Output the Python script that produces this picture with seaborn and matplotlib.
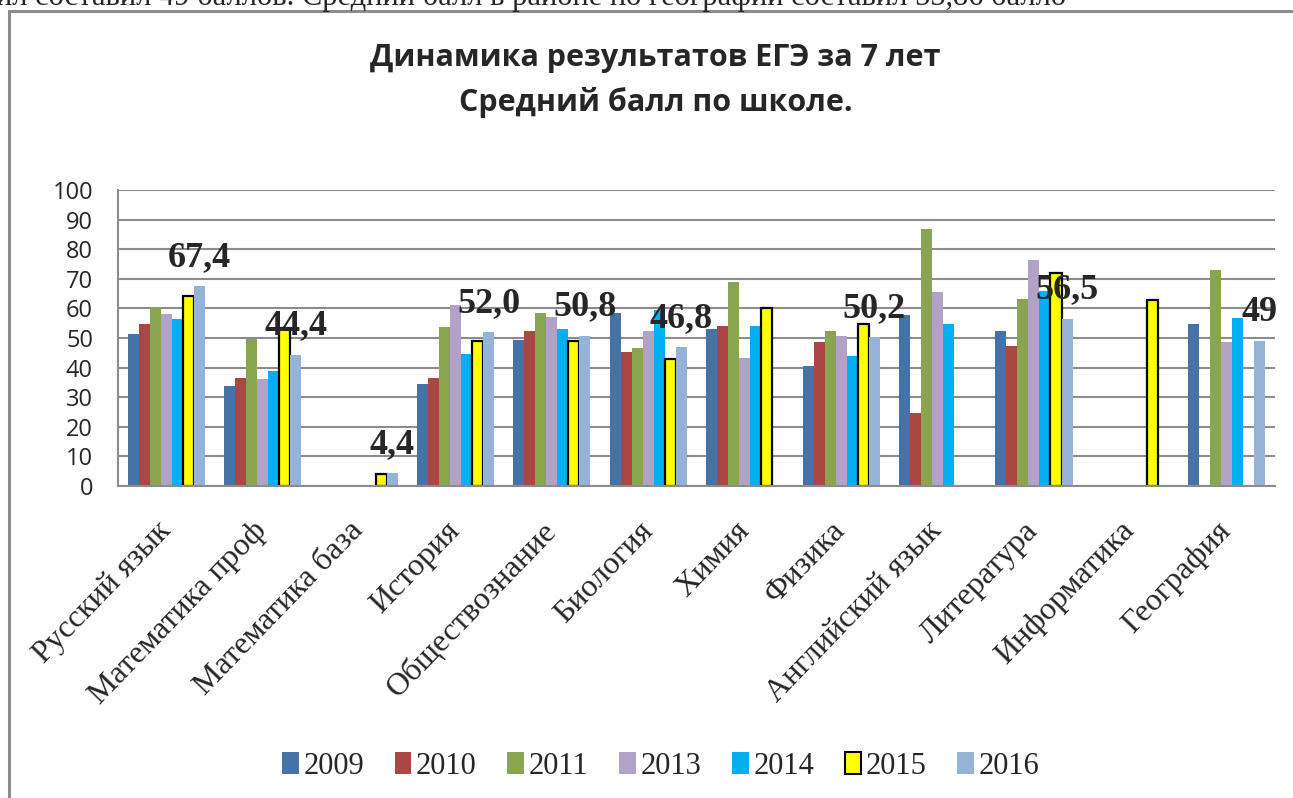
import numpy as np
import pandas as pd
import matplotlib
matplotlib.use('Agg')
import matplotlib.pyplot as plt
import matplotlib.patches as mpatches
import seaborn as sns

nan = np.nan

subjects = ['Русский язык', 'Математика проф', 'Математика база', 'История',
            'Обществознание', 'Биология', 'Химия', 'Физика', 'Английский язык',
            'Литература', 'Информатика', 'География']
years = ['2009', '2010', '2011', '2013', '2014', '2015', '2016']

y2009 = [51.4, 33.9, nan, 34.4, 49.3, 58.3, 53.0, 40.6, 57.9, 52.3, nan, 54.8]
y2010 = [54.6, 36.4, nan, 36.4, 52.2, 45.3, 53.9, 48.7, 24.7, 47.3, nan, nan]
y2011 = [60.5, 49.5, nan, 53.6, 58.3, 46.6, 68.8, 52.4, 86.8, 63.3, nan, 72.9]
y2013 = [58.2, 36.0, nan, 61.2, 57.1, 52.5, 43.1, 50.8, 65.5, 76.2, nan, 48.8]
y2014 = [56.4, 38.9, nan, 44.5, 53.0, 59.5, 53.9, 43.8, 54.8, 65.9, nan, 56.9]
y2015 = [64.3, 53.3, 4.0, 48.9, 48.9, 42.9, 60.0, 54.7, nan, 72.0, 62.9, nan]
y2016 = [67.4, 44.4, 4.4, 52.0, 50.8, 46.8, nan, 50.2, nan, 56.5, nan, 49.0]

labels_2016 = ['67,4', '44,4', '4,4', '52,0', '50,8', '46,8', '', '50,2', '', '56,5', '', '49']

colors = ['#4572A7', '#AA4643', '#89A54E', '#B3A2C7', '#00B0F0', '#FFFF00', '#95B3D7']

series = [y2009, y2010, y2011, y2013, y2014, y2015, y2016]
rows = []
for year, vals in zip(years, series):
    for subj, v in zip(subjects, vals):
        rows.append({'subject': subj, 'year': year, 'score': v})
df = pd.DataFrame(rows)

sns.set_style('white')
plt.rcParams['font.family'] = ['Open Sans', 'DejaVu Sans']

fig = plt.figure(figsize=(12.93, 7.98), dpi=100)
ax = fig.add_axes([118 / 1293, 1 - 486 / 798, (1275 - 118) / 1293, (486 - 190) / 798])

sns.barplot(data=df, x='subject', y='score', hue='year', order=subjects, hue_order=years,
            palette=colors, width=0.8, saturation=1, linewidth=0, legend=False, ax=ax)

# yellow 2015 bars get a black outline
for bar in ax.containers[5]:
    bar.set_edgecolor('black')
    bar.set_linewidth(1.6)

# big labels above the 2016 bars
for bar in ax.containers[6]:
    xc = bar.get_x() + bar.get_width() / 2
    h = bar.get_height()
    if np.isnan(h):
        continue
    idx = int(round(xc))
    ax.annotate(labels_2016[idx], (xc, h), xytext=(0, 14.5), textcoords='offset points',
                ha='center', va='baseline', fontsize=26, fontweight='bold',
                family='Liberation Serif', zorder=5)

ax.set_ylim(0, 100)
ax.set_xlim(-0.5, len(subjects) - 0.5)
ax.set_yticks(range(0, 101, 10))
ax.yaxis.grid(True, color='#8c8c8c', lw=1.5)
ax.set_axisbelow(True)
ax.set_xlabel('')
ax.set_ylabel('')
for side in ['top', 'right']:
    ax.spines[side].set_visible(False)
for side in ['left', 'bottom']:
    ax.spines[side].set_color('#8c8c8c')
    ax.spines[side].set_linewidth(1.5)

ax.tick_params(axis='y', length=0, pad=18, labelsize=17)
ax.tick_params(axis='x', length=0, pad=29)
for lbl in ax.get_xticklabels():
    lbl.set_rotation(46)
    lbl.set_ha('right')
    lbl.set_va('center')
    lbl.set_rotation_mode('anchor')
    lbl.set_fontfamily('Liberation Serif')
    lbl.set_fontsize(23)

fig.text(0.507, 1 - 58 / 798, 'Динамика результатов ЕГЭ за 7 лет', ha='center', va='center',
         fontsize=22, fontweight='bold')
fig.text(0.507, 1 - 103 / 798, 'Средний балл по школе.', ha='center', va='center',
         fontsize=22, fontweight='bold')

handles = []
for year, c in zip(years, colors):
    ec = 'black' if year == '2015' else c
    handles.append(mpatches.Patch(facecolor=c, edgecolor=ec, lw=1.5 if year == '2015' else 0, label=year))
fig.legend(handles=handles, loc='center', bbox_to_anchor=(0.511, 1 - 766 / 798), ncol=7,
           frameon=False, prop={'family': 'Liberation Serif', 'size': 22},
           handlelength=0.55, handleheight=0.75, handletextpad=0.15, columnspacing=1.0)

# chart area border
fig.patches.append(mpatches.Rectangle((8.5 / 1293, -0.2), 1.5, 1.2 - 10.5 / 798,
                                      transform=fig.transFigure, fill=False,
                                      edgecolor='#8c8c8c', lw=2.2))

# line of document text cut at the top edge
fig.text(-0.003, 1 - 5 / 798, 'ил составил 49 баллов. Средний балл в районе по географии составил 55,86 балло',
         ha='left', va='baseline', fontsize=22, family='Liberation Serif')

fig.savefig('out.png', dpi=100)
